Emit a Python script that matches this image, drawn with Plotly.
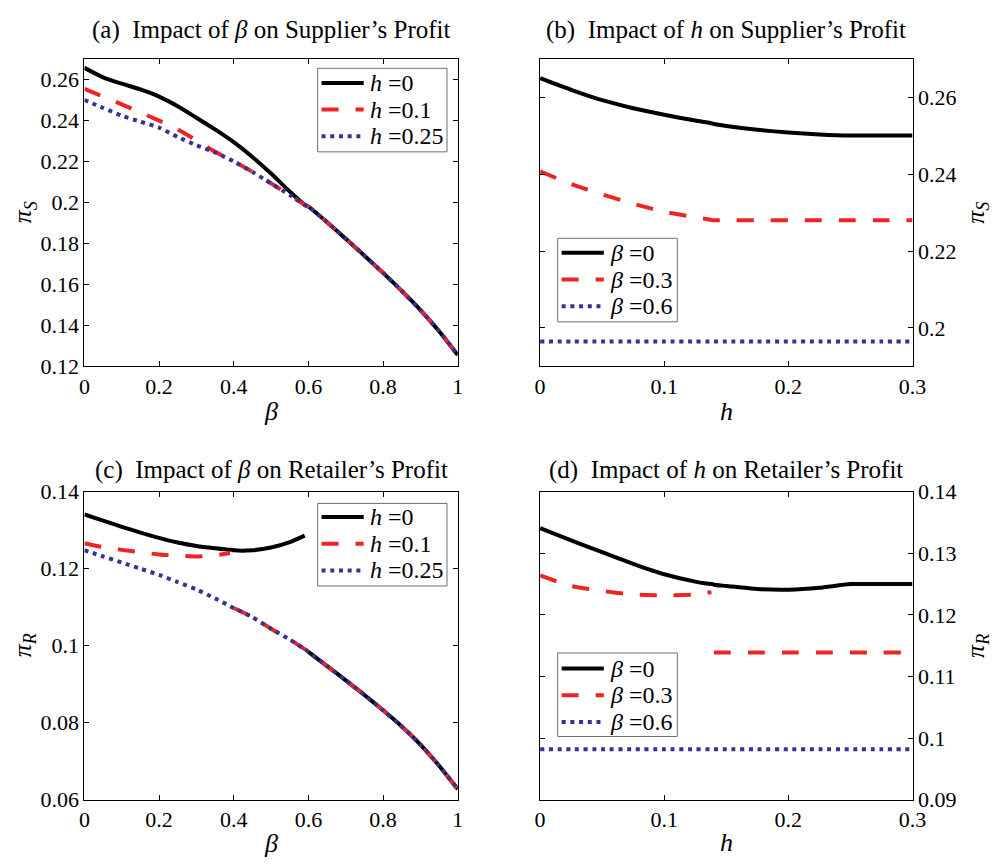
import plotly.graph_objects as go

# ---------------- data ----------------
# (a) supplier's profit vs beta, for three h levels
beta_a = [0, 0.05, 0.1, 0.15, 0.2, 0.25, 0.3, 0.35, 0.4, 0.45, 0.5, 0.55, 0.59,
          0.6, 0.65, 0.7, 0.75, 0.8, 0.85, 0.9, 0.95, 1.0]
piS_h0 = [0.2655, 0.2609, 0.2578, 0.2550, 0.2515, 0.2468, 0.2412, 0.2355, 0.2293,
          0.2221, 0.2140, 0.2052, 0.1987,
          0.1979, 0.1903, 0.1822, 0.1740, 0.1656, 0.1568, 0.1475, 0.1372, 0.1256]
piS_h01 = [0.2553, 0.2515, 0.2477, 0.2438, 0.2398, 0.2355, 0.2302, 0.2246, 0.2199,
           0.2148, 0.2092, 0.2035, 0.1988,
           0.1979, 0.1903, 0.1822, 0.1740, 0.1656, 0.1568, 0.1475, 0.1372, 0.1256]
piS_h025 = [0.2498, 0.2460, 0.2422, 0.2393, 0.2364, 0.2318, 0.2278, 0.2243, 0.2199,
            0.2148, 0.2092, 0.2035, 0.1988,
            0.1979, 0.1903, 0.1822, 0.1740, 0.1656, 0.1568, 0.1475, 0.1372, 0.1256]

# (b)/(d) profits vs h, for three beta levels
h_grid = [0, 0.025, 0.05, 0.075, 0.1, 0.125, 0.138, 0.139, 0.14, 0.15, 0.175,
          0.2, 0.225, 0.25, 0.275, 0.3]
piS_b0 = [0.2649, 0.2619, 0.2592, 0.2571, 0.2554, 0.2539, 0.2532, 0.2531, 0.2530,
          0.2525, 0.2515, 0.2508, 0.2503, 0.2500, 0.2500, 0.2500]
piS_b03 = [0.2407, 0.2374, 0.2347, 0.2323, 0.2302, 0.2288, 0.2281, 0.2280, 0.2280,
           0.2280, 0.2280, 0.2280, 0.2280, 0.2280, 0.2280, 0.2280]
piS_b06 = [0.1965] * 16

# (c) retailer's profit vs beta
beta_c = [0, 0.05, 0.1, 0.15, 0.2, 0.25, 0.3, 0.35, 0.39, 0.395, 0.4, 0.45, 0.5,
          0.55, 0.59, 0.595, 0.6, 0.65, 0.7, 0.75, 0.8, 0.85, 0.9, 0.95, 1.0]
piR_h0 = [0.1341, 0.1325, 0.1309, 0.1294, 0.1280, 0.1268, 0.1259, 0.1253, 0.1249,
          0.1249, 0.1248, 0.1248, 0.1255, 0.1269, 0.1286, None,
          0.0984, 0.0947, 0.0910, 0.0872, 0.0832, 0.0790, 0.0743, 0.0688, 0.0627]
piR_h01 = [0.1266, 0.1256, 0.1249, 0.1243, 0.1237, 0.1234, 0.1232, 0.1235, 0.1241,
           None, 0.1098, 0.1074, 0.1044, 0.1016, 0.0991, 0.0988,
           0.0984, 0.0947, 0.0910, 0.0872, 0.0832, 0.0790, 0.0743, 0.0688, 0.0627]
piR_h025 = [0.1248, 0.1232, 0.1216, 0.1200, 0.1184, 0.1165, 0.1146, 0.1123, 0.1103,
            0.1100, 0.1098, 0.1074, 0.1044, 0.1016, 0.0991, 0.0988,
            0.0984, 0.0947, 0.0910, 0.0872, 0.0832, 0.0790, 0.0743, 0.0688, 0.0627]

# (d) retailer's profit vs h
piR_b0 = [0.1341, 0.1321, 0.1302, 0.1283, 0.1266, 0.1254, 0.1250, 0.1250, 0.1249,
          0.1247, 0.1242, 0.1241, 0.1244, 0.1250, 0.1250, 0.1250]
piR_b03 = [0.1264, 0.1247, 0.1239, 0.1233, 0.1232, 0.1233, 0.1237, None, 0.1139,
           0.1139, 0.1139, 0.1139, 0.1139, 0.1139, 0.1139, 0.1139]
piR_b06 = [0.0982] * 16

h_labels = ["<i>h</i> =0", "<i>h</i> =0.1", "<i>h</i> =0.25"]
beta_labels = ["<i>β</i> =0", "<i>β</i> =0.3", "<i>β</i> =0.6"]
titles = ["(a)  Impact of <i>β</i> on Supplier’s Profit",
          "(b)  Impact of <i>h</i> on Supplier’s Profit",
          "(c)  Impact of <i>β</i> on Retailer’s Profit",
          "(d)  Impact of <i>h</i> on Retailer’s Profit"]

# ---------------- styling ----------------
FONT = "Liberation Serif, Times New Roman, serif"
W, H = 1000, 867
BLACK, RED, BLUE = "#000000", "#EE2424", "#32329A"
styles = [dict(color=BLACK, width=4, dash="solid"),
          dict(color=RED, width=4, dash="17px,17px"),
          dict(color=BLUE, width=4, dash="4px,4.7px")]

fig = go.Figure()

panels = [
    ("x", "y", beta_a, [piS_h0, piS_h01, piS_h025], h_labels),
    ("x2", "y2", h_grid, [piS_b0, piS_b03, piS_b06], beta_labels),
    ("x3", "y3", beta_c, [piR_h0, piR_h01, piR_h025], h_labels),
    ("x4", "y4", h_grid, [piR_b0, piR_b03, piR_b06], beta_labels),
]
for xa, ya, xs, series, labels in panels:
    for ys, lab, st in zip(series, labels, styles):
        fig.add_trace(go.Scatter(x=xs, y=ys, mode="lines", name=lab,
                                 line=dict(st, shape="spline", smoothing=0.6),
                                 xaxis=xa, yaxis=ya, showlegend=False,
                                 connectgaps=False, hoverinfo="skip"))

# panel boxes in pixels: (left, right, top, bottom)
boxes = [(80, 461, 48, 365), (545, 925, 48, 365),
         (80, 461, 494, 811), (545, 925, 494, 811)]


def px_x(v):
    return v / W


def px_y(v):
    return 1 - v / H


axis_common = dict(showline=True, linecolor="black", linewidth=1, mirror="ticks",
                   ticks="inside", ticklen=5, tickwidth=1, tickcolor="black",
                   showgrid=False, zeroline=False,
                   tickfont=dict(family=FONT, size=22, color="black"))

x_ranges = [[0, 1], [0, 0.3], [0, 1], [0, 0.3]]
x_ticks = [[0, 0.2, 0.4, 0.6, 0.8, 1], [0, 0.1, 0.2, 0.3],
           [0, 0.2, 0.4, 0.6, 0.8, 1], [0, 0.1, 0.2, 0.3]]
y_ranges = [[0.12, 0.27], [0.19, 0.27], [0.06, 0.14], [0.09, 0.14]]
y_ticks = [[0.12, 0.14, 0.16, 0.18, 0.2, 0.22, 0.24, 0.26],
           [0.2, 0.22, 0.24, 0.26],
           [0.06, 0.08, 0.1, 0.12, 0.14],
           [0.09, 0.1, 0.11, 0.12, 0.13, 0.14]]
y_sides = ["left", "right", "left", "right"]

layout = dict(width=W, height=H, margin=dict(l=0, r=0, t=0, b=0),
              paper_bgcolor="white", plot_bgcolor="white", showlegend=False,
              font=dict(family=FONT, size=22, color="black"))
names = ["", "2", "3", "4"]
for i, n in enumerate(names):
    l, r, t, b = boxes[i]
    layout["xaxis" + n] = dict(axis_common, domain=[px_x(l), px_x(r)],
                               anchor="y" + n, range=x_ranges[i],
                               tickvals=x_ticks[i])
    layout["yaxis" + n] = dict(axis_common, domain=[px_y(b), px_y(t)],
                               anchor="x" + n, range=y_ranges[i],
                               tickvals=y_ticks[i], side=y_sides[i])
fig.update_layout(**layout)

# legend boxes drawn as shapes + text: (left, right, top, bottom, first row y)
legend_boxes = [(318, 450, 58, 144, 73), (563, 685, 233, 319, 248),
                (318, 450, 506, 591, 520), (563, 685, 660, 746, 676)]
ROW = 27.5
shapes = []
ann = []
for i, (l, r, t, b, y0) in enumerate(legend_boxes):
    shapes.append(dict(type="rect", xref="paper", yref="paper",
                       x0=px_x(l), x1=px_x(r), y0=px_y(b), y1=px_y(t),
                       line=dict(color="#6E6E6E", width=1), fillcolor="white",
                       layer="above"))
    labels = panels[i][4]
    for k, st in enumerate(styles):
        yy = y0 + k * ROW
        shapes.append(dict(type="line", xref="paper", yref="paper",
                           x0=px_x(l + 4), x1=px_x(l + 47),
                           y0=px_y(yy), y1=px_y(yy),
                           line=dict(color=st["color"], width=st["width"],
                                     dash=st["dash"]),
                           layer="above"))
        ann.append(dict(text=labels[k], x=px_x(l + 51), y=px_y(yy),
                        xref="paper", yref="paper", showarrow=False,
                        xanchor="left", yanchor="middle",
                        font=dict(family=FONT, size=24, color="black")))

title_y = [19, 19, 472, 472]
x_titles = ["<i>β</i>", "<i>h</i>", "<i>β</i>", "<i>h</i>"]
x_title_y = [411, 411, 856, 855]
y_title = ["<i>π</i><sub><i>S</i></sub>", "<i>π</i><sub><i>S</i></sub>",
           "<i>π</i><sub><i>R</i></sub>", "<i>π</i><sub><i>R</i></sub>"]
y_title_x = [18, 990, 18, 990]
for i in range(4):
    l, r, t, b = boxes[i]
    cx = (l + r) / 2
    ann.append(dict(text=titles[i], x=px_x(cx), y=px_y(title_y[i]),
                    xref="paper", yref="paper", showarrow=False,
                    xanchor="center", yanchor="middle",
                    font=dict(family=FONT, size=25, color="black")))
    ann.append(dict(text=x_titles[i], x=px_x(cx), y=px_y(x_title_y[i]),
                    xref="paper", yref="paper", showarrow=False,
                    xanchor="center", yanchor="middle",
                    font=dict(family=FONT, size=26, color="black")))
    ann.append(dict(text=y_title[i], x=px_x(y_title_x[i]), y=px_y((t + b) / 2),
                    xref="paper", yref="paper", showarrow=False, textangle=-90,
                    xanchor="center", yanchor="middle",
                    font=dict(family=FONT, size=26, color="black")))
fig.update_layout(shapes=shapes, annotations=ann)

fig.write_html("out.html")
